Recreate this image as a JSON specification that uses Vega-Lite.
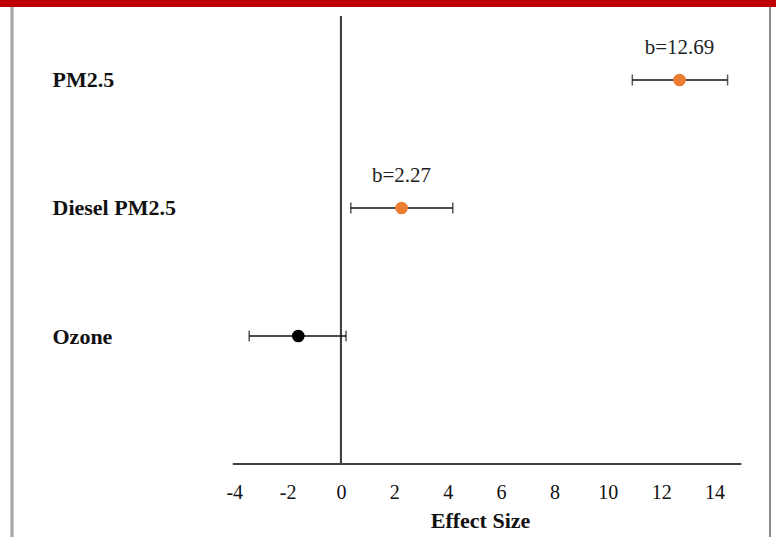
{
  "$schema": "https://vega.github.io/schema/vega-lite/v6.json",
  "width": 776,
  "height": 530,
  "autosize": "none",
  "padding": {"top": 7, "left": 0, "right": 0, "bottom": 0},
  "background": "#c00000",
  "config": {
    "view": {"fill": "white", "stroke": null},
    "font": "Liberation Serif"
  },
  "data": {
    "values": [
      {"pollutant": "PM2.5", "row": 3, "est": 12.69, "lo": 10.92, "hi": 14.49, "group": "significant", "label": "b=12.69"},
      {"pollutant": "Diesel PM2.5", "row": 2, "est": 2.27, "lo": 0.37, "hi": 4.19, "group": "significant", "label": "b=2.27"},
      {"pollutant": "Ozone", "row": 1, "est": -1.60, "lo": -3.44, "hi": 0.19, "group": "not significant", "label": ""}
    ]
  },
  "encoding": {
    "x": {
      "type": "quantitative",
      "scale": {"domain": [-12.78, 16.305], "nice": false, "zero": false},
      "axis": {
        "orient": "bottom",
        "offset": -73,
        "domain": false,
        "ticks": false,
        "tickSize": 0,
        "grid": false,
        "values": [-4, -2, 0, 2, 4, 6, 8, 10, 12, 14],
        "labelExpr": "datum.value < 0 ? '-' + abs(datum.value) : '' + datum.value",
        "labelFont": "Liberation Serif",
        "labelFontSize": 20,
        "labelColor": "#111111",
        "labelPadding": 18,
        "title": "Effect Size",
        "titleFont": "Liberation Serif",
        "titleFontSize": 22,
        "titleFontWeight": "bold",
        "titleColor": "#111111",
        "titleX": 480,
        "titleY": 63,
        "titleAlign": "center",
        "titleBaseline": "alphabetic"
      }
    },
    "y": {
      "type": "quantitative",
      "scale": {"domain": [-0.5703, 3.5703], "nice": false, "zero": false},
      "axis": {
        "orient": "left",
        "offset": -52,
        "domain": false,
        "ticks": false,
        "tickSize": 0,
        "grid": false,
        "values": [1, 2, 3],
        "labelExpr": "datum.value == 3 ? 'PM2.5' : datum.value == 2 ? 'Diesel PM2.5' : 'Ozone'",
        "labelAlign": "left",
        "labelBaseline": "middle",
        "labelPadding": 0,
        "labelFont": "Liberation Serif",
        "labelFontSize": 22,
        "labelFontWeight": "bold",
        "labelColor": "#111111",
        "title": null
      }
    }
  },
  "layer": [
    {
      "mark": {"type": "rule", "color": "#a6a6a6", "strokeWidth": 2.5},
      "encoding": {"x": {"datum": -12.33}}
    },
    {
      "mark": {"type": "rule", "color": "#8c8c8c", "strokeWidth": 2},
      "encoding": {"x": {"datum": 16.08}}
    },
    {
      "mark": {"type": "rule", "color": "#404040", "strokeWidth": 2},
      "encoding": {"x": {"datum": 0}, "y": {"datum": 0}, "y2": {"datum": 3.5}}
    },
    {
      "mark": {"type": "rule", "color": "#404040", "strokeWidth": 2},
      "encoding": {"x": {"datum": -4.05}, "x2": {"datum": 15.0}, "y": {"datum": 0}}
    },
    {
      "mark": {
        "type": "errorbar",
        "color": "#111111",
        "ticks": {"size": 11, "thickness": 1.5},
        "rule": {"strokeWidth": 1.5}
      },
      "encoding": {
        "x": {"field": "lo", "type": "quantitative"},
        "x2": {"field": "hi"},
        "y": {"field": "row", "type": "quantitative"}
      }
    },
    {
      "mark": {"type": "circle", "size": 160, "opacity": 1},
      "encoding": {
        "x": {"field": "est", "type": "quantitative"},
        "y": {"field": "row", "type": "quantitative"},
        "color": {
          "field": "group",
          "type": "nominal",
          "scale": {"domain": ["significant", "not significant"], "range": ["#ed7d31", "#000000"]},
          "legend": null
        }
      }
    },
    {
      "transform": [{"filter": "datum.label != ''"}],
      "mark": {"type": "text", "dy": -32, "fontSize": 21, "font": "Liberation Serif", "color": "#222222", "baseline": "middle"},
      "encoding": {
        "x": {"field": "est", "type": "quantitative"},
        "y": {"field": "row", "type": "quantitative"},
        "text": {"field": "label"}
      }
    }
  ]
}
